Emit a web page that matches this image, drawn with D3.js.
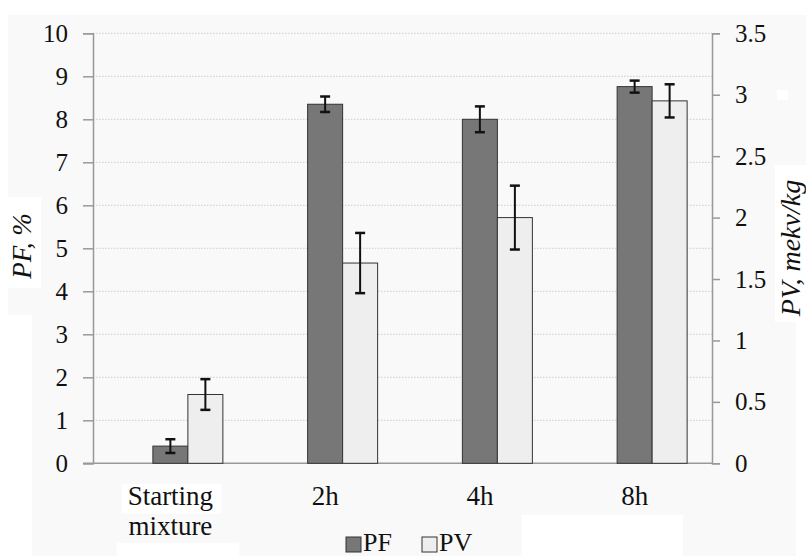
<!DOCTYPE html>
<html>
<head>
<meta charset="utf-8">
<script src="https://cdn.jsdelivr.net/npm/d3@7"></script>
<style>
  body { margin: 0; background: #fff; }
  text { font-family: "Liberation Serif", Tinos, "Times New Roman", "DejaVu Serif", "Noto Serif", serif; fill: #111; }
</style>
</head>
<body>
<div id="chart"></div>
<script>
// data
var categories = ["Starting mixture", "2h", "4h", "8h"];
var pfValues = [0.4, 8.35, 8.0, 8.76];
var pfErrors = [0.16, 0.18, 0.3, 0.14];
var pvValues = [0.56, 1.63, 2.0, 2.95];
var pvErrors = [0.125, 0.245, 0.26, 0.135];
var leftTicks = [0, 1, 2, 3, 4, 5, 6, 7, 8, 9, 10];
var rightTicks = [0, 0.5, 1, 1.5, 2, 2.5, 3, 3.5];
var seriesNames = ["PF", "PV"];

var colors = {PF: "#777777", PV: "#eeeeee"};
var serif = '"Liberation Serif", Tinos, "Times New Roman", "DejaVu Serif", "Noto Serif", serif';

var W = 806, H = 556;
var margin = {top: 33.3, right: 94, bottom: 92.7, left: 93},
    width = W - margin.left - margin.right,
    height = H - margin.top - margin.bottom;

var svg = d3.select("#chart")
  .append("svg")
    .attr("width", W)
    .attr("height", H)
    .attr("font-family", serif);

// light grey backdrop with the white patches of the original scan
svg.append("rect").attr("x", 8).attr("y", 15).attr("width", W - 8).attr("height", H - 15).attr("fill", "#f9f9f9");
var patches = [
  [8, 197, 33, 91], [0, 315, 32, 241], [121.7, 484, 100, 29.5],
  [116.7, 542.7, 122.6, 14], [521.7, 515, 161.3, 41], [775, 165, 31, 157],
  [796, 322, 10, 234], [777, 90, 11, 10]
];
svg.selectAll(".patch")
  .data(patches)
  .enter().append("rect")
    .attr("x", function(d) { return d[0]; })
    .attr("y", function(d) { return d[1]; })
    .attr("width", function(d) { return d[2]; })
    .attr("height", function(d) { return d[3]; })
    .attr("fill", "#ffffff");

var g = svg.append("g")
  .attr("transform", "translate(" + margin.left + "," + margin.top + ")");

var x = d3.scaleBand()
  .domain(categories)
  .range([0, width]);

// PF bar sits on the category centre, PV right next to it
var barW = 35;
var xSub = d3.scaleBand()
  .domain(seriesNames)
  .range([-barW / 2, barW * 1.5]);

var yL = d3.scaleLinear().domain([0, 10]).range([height, 0]);
var yR = d3.scaleLinear().domain([0, 3.5]).range([height, 0]);

// dotted gridlines
g.append("g")
  .selectAll("line")
  .data(leftTicks.slice(1))
  .enter().append("line")
    .attr("x1", 0)
    .attr("x2", width)
    .attr("y1", function(d) { return yL(d); })
    .attr("y2", function(d) { return yL(d); })
    .attr("stroke", "#cccccc")
    .attr("stroke-width", 1)
    .attr("stroke-dasharray", "1.5,1.5");

// axes
var left = g.append("g")
  .call(d3.axisLeft(yL).tickValues(leftTicks).tickSize(10).tickPadding(15).tickFormat(d3.format("d")));
var right = g.append("g")
  .attr("transform", "translate(" + width + ",0)")
  .call(d3.axisRight(yR).tickValues(rightTicks).tickSize(8).tickPadding(15).tickFormat(function(d) { return String(d); }));

[left, right].forEach(function(ax) {
  ax.attr("font-family", serif);
  ax.select(".domain").attr("stroke", "#999").attr("stroke-width", 1.5);
  ax.selectAll(".tick line").attr("stroke", "#999").attr("stroke-width", 1.5);
  ax.selectAll(".tick text").style("font-size", "25px").attr("fill", "#111");
});

// x baseline
g.append("line")
  .attr("x1", -10).attr("x2", width)
  .attr("y1", height).attr("y2", height)
  .attr("stroke", "#999").attr("stroke-width", 1.5);

// bars
var rows = categories.map(function(c, i) {
  return {cat: c, items: [
    {key: "PF", value: pfValues[i], err: pfErrors[i], y: yL},
    {key: "PV", value: pvValues[i], err: pvErrors[i], y: yR}
  ]};
});

var groups = g.append("g")
  .selectAll("g")
  .data(rows)
  .enter().append("g")
    .attr("transform", function(d) { return "translate(" + (x(d.cat) + x.bandwidth() / 2) + ",0)"; });

groups.selectAll("rect")
  .data(function(d) { return d.items; })
  .enter().append("rect")
    .attr("x", function(d) { return xSub(d.key); })
    .attr("width", xSub.bandwidth())
    .attr("y", function(d) { return d.y(d.value); })
    .attr("height", function(d) { return height - d.y(d.value); })
    .attr("fill", function(d) { return colors[d.key]; })
    .attr("stroke", "#333")
    .attr("stroke-width", 1);

// error bars
var eb = groups.selectAll(".err")
  .data(function(d) { return d.items; })
  .enter().append("g")
    .attr("class", "err")
    .attr("transform", function(d) { return "translate(" + (xSub(d.key) + xSub.bandwidth() / 2) + ",0)"; });
eb.append("line")
  .attr("x1", 0).attr("x2", 0)
  .attr("y1", function(d) { return d.y(d.value + d.err); })
  .attr("y2", function(d) { return d.y(d.value - d.err); })
  .attr("stroke", "#111").attr("stroke-width", 2);
eb.selectAll(".cap")
  .data(function(d) { return [d.y(d.value + d.err), d.y(d.value - d.err)]; })
  .enter().append("line")
    .attr("x1", -5).attr("x2", 5)
    .attr("y1", function(d) { return d; })
    .attr("y2", function(d) { return d; })
    .attr("stroke", "#111").attr("stroke-width", 2.5);

// category labels
var labels = g.append("g")
  .selectAll("text")
  .data(categories)
  .enter().append("text")
    .attr("x", function(d) { return x(d) + x.bandwidth() / 2; })
    .attr("y", height + 42)
    .attr("text-anchor", "middle")
    .style("font-size", "27px");
labels.each(function(d) {
  var parts = d.split(" ");
  var t = d3.select(this);
  parts.forEach(function(p, i) {
    t.append("tspan")
      .attr("x", x(d) + x.bandwidth() / 2)
      .attr("dy", i == 0 ? 0 : 30)
      .text(p);
  });
});

// axis titles
svg.append("text")
  .attr("transform", "translate(31,246) rotate(-90)")
  .attr("text-anchor", "middle")
  .style("font-size", "27px")
  .style("font-style", "italic")
  .text("PF, %");
svg.append("text")
  .attr("transform", "translate(800,248) rotate(-90)")
  .attr("text-anchor", "middle")
  .style("font-size", "28px")
  .style("font-style", "italic")
  .text("PV, mekv/kg");

// legend
var legendX = [346, 422];
var legend = svg.append("g")
  .selectAll("g")
  .data(seriesNames)
  .enter().append("g")
    .attr("transform", function(d, i) { return "translate(" + legendX[i] + ",537)"; });
legend.append("rect")
  .attr("width", 15).attr("height", 15)
  .attr("fill", function(d) { return colors[d]; })
  .attr("stroke", "#333");
legend.append("text")
  .attr("x", 17)
  .attr("y", 14)
  .style("font-size", "26px")
  .text(function(d) { return d; });
</script>
</body>
</html>
